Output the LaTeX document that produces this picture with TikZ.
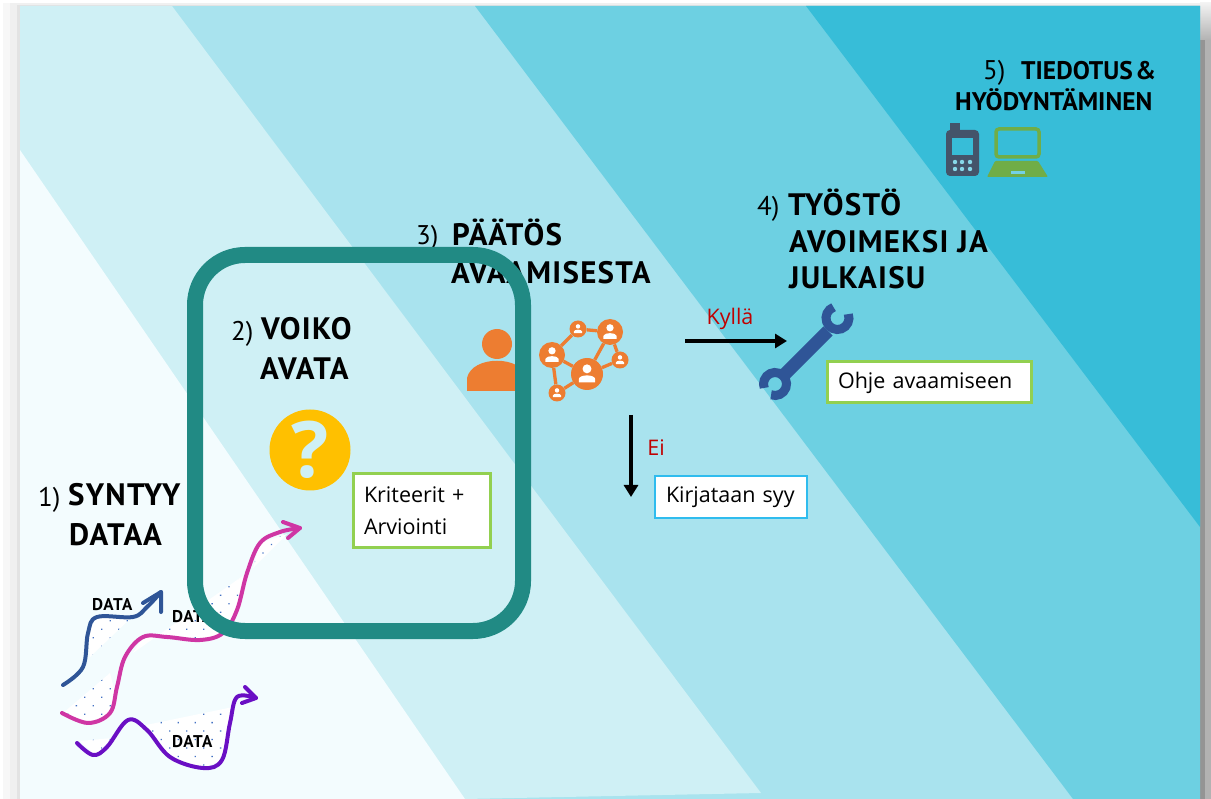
\documentclass[tikz,border=0pt]{standalone}
\usepackage{fontspec}
\usetikzlibrary{arrows.meta,patterns.meta}
\setmainfont{Open Sans}
\newfontfamily\headfont[LetterSpace=4]{PT Sans}
\newfontfamily\headnarrow{PT Sans}

\definecolor{band1}{HTML}{F3FCFE}
\definecolor{band2}{HTML}{CFF0F5}
\definecolor{band3}{HTML}{A9E3EE}
\definecolor{band4}{HTML}{6DD0E2}
\definecolor{band5}{HTML}{37BDD8}
\definecolor{framegreen}{HTML}{218A84}
\definecolor{boxgreen}{HTML}{92D050}
\definecolor{boxblue}{HTML}{2FBCEE}
\definecolor{answerred}{HTML}{C00000}
\definecolor{iconorange}{HTML}{ED7D31}
\definecolor{iconyellow}{HTML}{FFC000}
\definecolor{iconblue}{HTML}{2F5597}
\definecolor{icongrey}{HTML}{44546A}
\definecolor{icongreen}{HTML}{70AD47}
\definecolor{datapink}{HTML}{CF36A4}
\definecolor{datapurple}{HTML}{6A0FC4}
\definecolor{dotblue}{HTML}{4472C4}

\tikzset{
  headnum/.style={anchor=base west, inner sep=0pt, font=\headnarrow\fontsize{27}{27}\selectfont},
  headtxt/.style={anchor=base west, inner sep=0pt, font=\headfont\bfseries\fontsize{31}{31}\selectfont},
  headsmall/.style={anchor=base west, inner sep=0pt, font=\headnarrow\bfseries\fontsize{25.5}{26}\selectfont},
  datatxt/.style={anchor=base west, inner sep=0pt, font=\headfont\bfseries\fontsize{17}{17}\selectfont},
  notebox/.style={draw=boxgreen, line width=3pt, fill=white, anchor=north west, inner sep=0pt, align=left, font=\fontsize{21.5}{32}\selectfont},
  answer/.style={inner sep=0pt, text=answerred, font=\fontsize{21.5}{22}\selectfont},
  dataline/.style={line width=4pt, line cap=round, line join=round},
  datafill/.style={fill=white, postaction={pattern={Dots[radius=0.9pt,distance=12pt,angle=45]}, pattern color=dotblue}},
  bigarrow/.style={line width=3.5pt, -{Triangle[length=12pt,width=14pt]}},
  netnode/.style={circle, fill=iconorange, inner sep=0pt},
  netlink/.style={iconorange, line width=3.3pt},
  netperson/.pic={
    \fill[white] (0,-0.38) circle (0.33);
    \fill[white] (-0.6,0.62) -- (-0.6,0.35) .. controls (-0.5,0.02) and (0.5,0.02) .. (0.6,0.35) -- (0.6,0.62) -- cycle;
  }
}

\begin{document}
\begin{tikzpicture}[x=1pt, y=-1pt]
  \useasboundingbox (0,0) rectangle (1211,799);

  % Page shadow
  \fill[white] (0,0) rectangle (1211,799);
  \fill[black!3] (3,3) rectangle (1200,799);
  \fill[black!6] (10,3) rectangle (1200,799);
  \fill[black!11] (17,5) rectangle (1200,799);
  \shade[top color=black!5, bottom color=black!30] (1200,3) rectangle (1211,40);
  \fill[black!30] (1200,40) rectangle (1211,799);
  \fill[black!42] (1200,40) rectangle (1205,799);

  % Bands
  \fill[band3] (20,6) rectangle (1200,799);
  \fill[band2] (20,6) -- (172,6) -- (761,793) -- (465,799) -- (20,799) -- cycle;
  \fill[band1] (20,150) -- (465,799) -- (20,799) -- cycle;
  \fill[band4] (475,6) -- (1200,6) -- (1200,799) -- (1073,799) -- cycle;
  \fill[band5] (806,6) -- (1200,6) -- (1200,527) -- cycle;

  % White dotted patches under the data lines
  \fill[datafill] (90,657) -- (88,633) -- (97,617) -- (131,618) -- cycle;
  \fill[datafill] (63,713) -- (110,673) -- (115,692) -- (110,713) -- (88,723) -- cycle;
  \fill[datafill] (133,653) -- (143,637) -- (167,637) -- (200,640) -- (223,633) -- (237,610) -- (247,573) -- cycle;
  \fill[datafill] (253,568) -- (260,543) -- (287,534) -- cycle;
  \fill[datafill] (80,741) -- (95,755) -- (112,738) -- cycle;
  \fill[datafill] (146,725) -- (233,707) -- (230,723) -- (222,760) -- (203,768) -- (170,757) -- cycle;

  % Data lines
  \draw[dataline, iconblue] plot[smooth, tension=0.6] coordinates {(63,685) (83,667) (88,633) (97,617) (133,617) (147,607) (161,592)};
  \draw[dataline, iconblue] (143,603) -- (161,592) -- (161,612);
  \draw[dataline, datapink] plot[smooth, tension=0.6] coordinates {(62,713) (88,723) (110,713) (117,687) (125,657) (143,637) (167,637) (200,640) (223,633) (237,610) (247,573) (260,543) (280,532) (300,528)};
  \draw[dataline, datapink] (283,522) -- (300,528) -- (288,538);
  \draw[dataline, datapurple] plot[smooth, tension=0.6] coordinates {(77,743) (93,755) (107,747) (128,720) (147,730) (170,757) (203,768) (222,760) (230,723) (237,697) (256,698)};
  \draw[dataline, datapurple] (245,687) -- (256,698) -- (242,703);

  % Data labels
  \node[datatxt] (data1) at (92,610) {DATA};
  \node[datatxt] (data2) at (172,622) {DATA};
  \node[datatxt] (data3) at (172,747) {DATA};

  % Step 1
  \node[headnum] (num1) at (38,507) {1)};
  \node[headtxt] (syntyy) at (68,506) {SYNTYY};
  \node[headtxt] (dataa) at (69,546) {DATAA};

  % Step 3, partly behind the frame
  \node[headnum] (num3) at (416,245) {3)};
  \node[headtxt] (paatos) at (452,246) {PÄÄTÖS};
  \node[headtxt] (avaamisesta) at (451,284) {AVAAMISESTA};

  % Person
  \fill[iconorange] (497,344) circle (15);
  \fill[iconorange] (467,391) -- (467,378) .. controls (472,355) and (522,355) .. (527,378) -- (527,391) -- cycle;

  % Frame
  \node[draw=framegreen, line width=16pt, rounded corners=50pt, minimum width=328pt, minimum height=376pt, inner sep=0pt] (frame) at (359,443) {};

  % Step 2
  \node[headnum] (num2) at (231,341) {2)};
  \node[headtxt] (voiko) at (261,340) {VOIKO};
  \node[headtxt] (avata) at (260,380) {AVATA};
  \node[circle, fill=iconyellow, minimum size=81pt, inner sep=0pt, text=band2, font=\bfseries\fontsize{78}{78}\selectfont] (question) at (310,450) {?};
  \node[notebox, minimum width=137pt, minimum height=73pt, text width=115pt, inner xsep=11pt] (kriteerit) at (351.5,472.5) {Kriteerit +\\Arviointi};

  % Network of people
  \node[netnode, minimum size=26pt] (neta) at (552,355) {};
  \node[netnode, minimum size=17pt] (netb) at (578,329) {};
  \node[netnode, minimum size=26pt] (netc) at (610,332) {};
  \node[netnode, minimum size=17pt] (netd) at (620,360) {};
  \node[netnode, minimum size=32pt] (nete) at (587,374) {};
  \node[netnode, minimum size=17pt] (netf) at (557,393) {};
  \foreach \from/\to in {neta/netb, netb/netc, netc/nete, netc/netd, netd/nete, nete/netf, netf/neta, neta/nete}
    \draw[netlink] (\from) -- (\to);
  \foreach \who/\size in {neta/13, netb/8, netc/13, netd/8, nete/16, netf/8}
    \pic[scale=\size*0.85] at (\who) {netperson};

  % Answers
  \coordinate (yesfrom) at (685,341);
  \coordinate (yesto) at (787,341);
  \coordinate (nofrom) at (631,415);
  \coordinate (noto) at (631,497);
  \draw[bigarrow] (yesfrom) -- (yesto);
  \draw[bigarrow] (nofrom) -- (noto);
  \node[answer] (kylla) at (730,319) {Kyllä};
  \node[answer] (ei) at (656,448) {Ei};
  \node[notebox, draw=boxblue, line width=2pt, minimum width=152pt, minimum height=42pt, text width=130pt, inner xsep=11pt] (syy) at (654,475) {Kirjataan syy};

  % Step 4
  \node[headnum] (num4) at (757,216) {4)};
  \node[headtxt] (tyosto) at (788,216) {TYÖSTÖ};
  \node[headtxt] (avoimeksi) at (789,253) {AVOIMEKSI JA};
  \node[headtxt] (julkaisu) at (789,289) {JULKAISU};

  % Wrench
  \draw[iconblue, line width=13pt] (783,376) -- (828,331);
  \draw[iconblue, line width=9pt] (848.3,314.1) arc[start angle=-20, end angle=250, radius=11.5];
  \draw[iconblue, line width=9pt] (771.1,394.8) arc[start angle=110, end angle=-200, radius=11.5];
  \node[notebox, minimum width=204pt, minimum height=41pt, text width=183pt, inner xsep=10pt] (ohje) at (826,360.5) {Ohje avaamiseen};

  % Step 5
  \node[headnum] (num5) at (983,80) {5)};
  \node[headsmall] (tiedotus) at (1021,80) {TIEDOTUS\hspace{-4pt} \&};
  \node[headsmall] (hyodyntaminen) at (955,111) {HYÖDYNTÄMINEN};

  % Phone
  \fill[icongrey] (950,123) rectangle (960,132);
  \fill[icongrey, rounded corners=4pt] (946,130) rectangle (979,176);
  \fill[band5] (952,138) rectangle (973,155);
  \foreach \kx in {955,962,970}
    \foreach \ky in {162,169}
      \fill[band5!60!white] (\kx,\ky) circle (2.2);

  % Laptop
  \draw[icongreen, line width=3.5pt, rounded corners=3pt] (996,129) rectangle (1039,157);
  \fill[icongreen, rounded corners=1pt] (995,161) -- (1038,161) -- (1048,177) -- (987,177) -- cycle;
  \fill[band5!70!white] (1011,171) rectangle (1025,174);
\end{tikzpicture}
\end{document}
